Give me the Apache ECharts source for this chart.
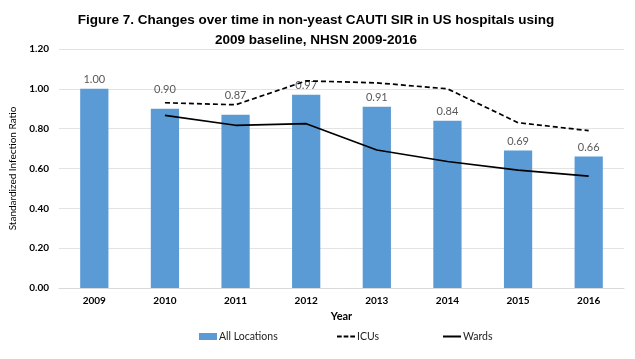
<!DOCTYPE html>
<html><head><meta charset="utf-8">
<script src="https://cdn.jsdelivr.net/npm/echarts@6/dist/echarts.min.js"></script>
<style>html,body{margin:0;padding:0;background:#fff}#c{width:635px;height:359px}</style>
</head><body><div id="c"></div>
<script>
const years = ['2009','2010','2011','2012','2013','2014','2015','2016'];
const allLocations = [1.00, 0.90, 0.87, 0.97, 0.91, 0.84, 0.69, 0.66];
const icus = [null, 0.93, 0.92, 1.04, 1.03, 1.00, 0.83, 0.79];
const wards = [null, 0.867, 0.817, 0.825, 0.693, 0.635, 0.592, 0.562];
const yTicks = [0, 0.2, 0.4, 0.6, 0.8, 1.0, 1.2];

// labels the original chart lifted above the ICU line
const raisedLabels = {'2010': 14, '2011': 14};

const chart = echarts.init(document.getElementById('c'));
const legendText = {fontFamily: 'Lato, "Open Sans", sans-serif', fontSize: 10.5, color: '#222', padding: [0, 0, 0, -3]};
const barData = allLocations.map((v, i) => {
  const d = {value: v};
  if (raisedLabels[years[i]] !== undefined) d.label = {distance: raisedLabels[years[i]]};
  return d;
});
chart.setOption({
  animation: false,
  title: {
    text: 'Figure 7. Changes over time in non-yeast CAUTI SIR in US hospitals using\n2009 baseline, NHSN 2009-2016',
    left: 311, top: 5, textAlign: 'center',
    textStyle: {fontFamily: '"Liberation Sans", Arial, sans-serif', fontSize: 13.5, fontWeight: 'bold', color: '#000', lineHeight: 20}
  },
  legend: [
    {data: [{name: 'All Locations', icon: 'rect'}], left: 194, top: 326, itemWidth: 18, itemHeight: 7, textStyle: legendText},
    {data: [{name: 'ICUs', icon: 'path://M0,0h5v2h-5z M7,0h5v2h-5z M14,0h5v2h-5z'}], left: 332, top: 326, itemWidth: 18, itemHeight: 2, textStyle: legendText},
    {data: [{name: 'Wards', icon: 'rect'}], left: 438, top: 326, itemWidth: 18, itemHeight: 2, textStyle: legendText}
  ],
  grid: {left: 59, right: 11, top: 49, bottom: 71},
  xAxis: {
    type: 'category', data: years,
    name: 'Year', nameLocation: 'middle', nameGap: 21,
    nameTextStyle: {fontFamily: 'Lato, "Open Sans", sans-serif', fontSize: 11, fontWeight: 'bold', color: '#000'},
    axisLine: {lineStyle: {color: '#d9d9d9'}},
    axisTick: {show: false},
    axisLabel: {fontFamily: 'Lato, "Open Sans", sans-serif', fontSize: 10, fontWeight: 'bold', color: '#000', margin: 8}
  },
  yAxis: {
    type: 'value', min: 0, max: 1.2, interval: 0.2,
    name: 'Standardized Infection Ratio', nameLocation: 'middle', nameGap: 41,
    nameTextStyle: {fontFamily: 'Lato, "Open Sans", sans-serif', fontSize: 10, color: '#000'},
    axisLine: {show: false}, axisTick: {show: false},
    splitLine: {lineStyle: {color: '#e3e3e3'}},
    axisLabel: {fontFamily: 'Lato, "Open Sans", sans-serif', fontSize: 10, fontWeight: 'bold', color: '#000', margin: 10,
      formatter: v => { const t = yTicks.find(x => Math.abs(x - v) < 1e-6); return (t !== undefined ? t : v).toFixed(2); }}
  },
  series: [
    {name: 'All Locations', type: 'bar', data: barData, barWidth: '40%',
      itemStyle: {color: '#5b9bd5'},
      label: {show: true, position: 'top', distance: 4, formatter: p => p.value.toFixed(2),
        fontFamily: 'Lato, "Open Sans", sans-serif', fontSize: 11, color: '#595959'}},
    {name: 'ICUs', type: 'line', data: icus, symbol: 'none', connectNulls: false,
      lineStyle: {color: '#000', width: 1.7, type: [5, 3]}, itemStyle: {color: '#000'}},
    {name: 'Wards', type: 'line', data: wards, symbol: 'none',
      lineStyle: {color: '#000', width: 1.7}, itemStyle: {color: '#000'}}
  ]
});
</script></body></html>
